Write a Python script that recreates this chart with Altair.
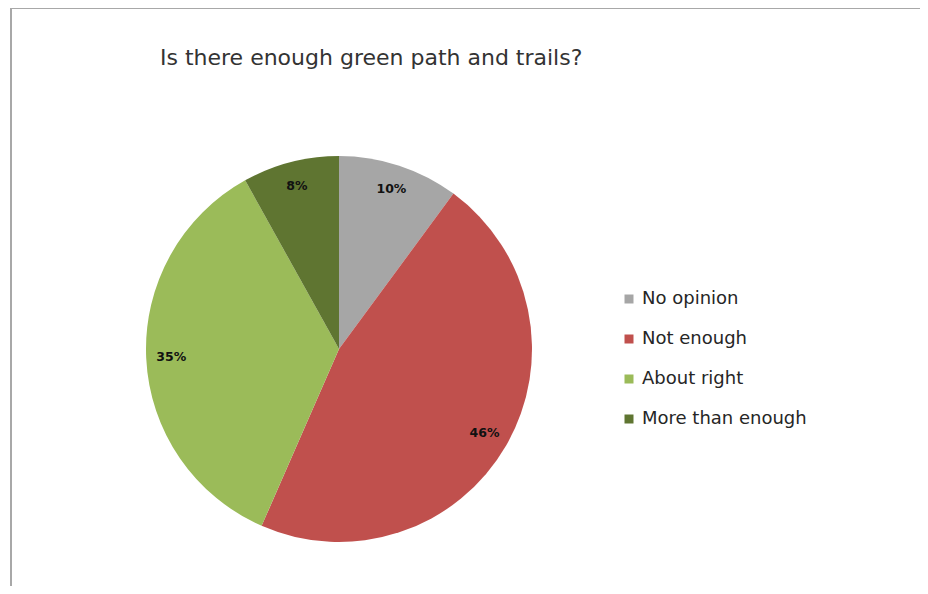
import altair as alt
import pandas as pd

categories = ["No opinion", "Not enough", "About right", "More than enough"]
values = [10, 46, 35, 8]
labels = ["10%", "46%", "35%", "8%"]
colors = ["#A6A6A6", "#C0504D", "#9BBB59", "#5F7531"]
title_text = "Is there enough green path and trails?"

df = pd.DataFrame({"category": categories, "value": values, "label": labels,
                   "idx": list(range(len(categories)))})

W, H = 912, 578
CX, CY, R = 331, 341, 193
FONT = "DejaVu Sans"

base = alt.Chart(df).encode(
    theta=alt.Theta("value:Q", stack=True),
    order=alt.Order("idx:Q"),
)

pie = base.mark_arc(radius=R, stroke=None).encode(
    x=alt.value(CX), y=alt.value(CY),
    color=alt.Color(
        "category:N",
        scale=alt.Scale(domain=categories, range=colors),
        sort=categories,
        legend=alt.Legend(
            title=None, orient="none", legendX=612, legendY=282,
            symbolType="square", symbolSize=81, symbolStrokeWidth=0,
            labelFont=FONT, labelFontSize=18, labelColor="#262626",
            labelOffset=4, rowPadding=22, labelLimit=300,
        ),
    ),
)

text = base.mark_text(radius=168, font=FONT, fontSize=12.5, fontWeight="bold",
                      color="#111111").encode(
    x=alt.value(CX), y=alt.value(CY), text="label:N")

title = alt.Chart(pd.DataFrame({"t": [title_text]})).mark_text(
    align="left", baseline="middle", font=FONT, fontSize=22, color="#333333"
).encode(x=alt.value(152), y=alt.value(50), text="t:N")

border_top = alt.Chart(pd.DataFrame({"a": [0]})).mark_rule(
    color="#A8A8A8", strokeWidth=2).encode(x=alt.value(3), x2=alt.value(W + 8), y=alt.value(0))
border_left = alt.Chart(pd.DataFrame({"a": [0]})).mark_rule(
    color="#A8A8A8", strokeWidth=2).encode(x=alt.value(3), y=alt.value(0), y2=alt.value(H))

chart = alt.layer(pie, text, title, border_top, border_left).properties(
    width=W, height=H, autosize=alt.AutoSizeParams(type="none"), padding=0
).configure_view(stroke=None)

chart.save("out.html", embed_options={"renderer": "svg", "actions": False})
